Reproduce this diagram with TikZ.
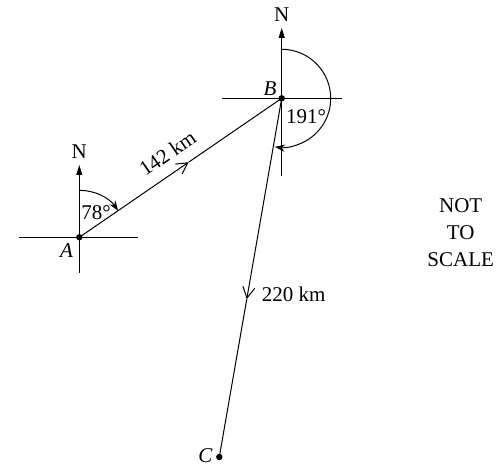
\documentclass[tikz,border=0pt]{standalone}
\usepackage{fontspec}
\setmainfont{Liberation Serif}
\usetikzlibrary{arrows.meta, calc}

\begin{document}
\begin{tikzpicture}[
    x=0.5pt, y=0.5pt, line width=0.5pt,
    font=\fontsize{10.5}{13.5}\selectfont,
    dot/.style={circle, fill, inner sep=0pt, minimum size=3.2pt},
    north/.style={-{Triangle[length=5pt, width=3pt]}},
    turn/.style={-{Stealth[length=5pt, width=3.6pt]}},
    midarrow/.style={-{Straight Barb[length=5.5pt, width=6pt]}}
]
    \useasboundingbox (0,0) rectangle (497,464);

    % --- Points ---
    \coordinate (A) at (79.3,226.7);
    \coordinate (B) at (281.7,365.7);
    \coordinate (C) at (219.3,7);

    % --- Cross and north line at A ---
    \draw ($(A)+(-60,0)$) -- ($(A)+(59,0)$);
    \draw[north] ($(A)+(0,-35.7)$) -- ($(A)+(0,72.3)$)
        node[above, inner sep=2.8pt] (nA) {N};

    % --- Cross and north line at B ---
    \draw ($(B)+(-60,0)$) -- ($(B)+(60,0)$);
    \draw[north] ($(B)+(0,-77.7)$) -- ($(B)+(0,70.3)$)
        node[above, inner sep=2.8pt] (nB) {N};

    % --- Legs ---
    \coordinate (mAB) at ($(A)!0.54!(B)$);
    \coordinate (mBC) at ($(B)!0.56!(C)$);
    \draw[midarrow] (A) -- (mAB);
    \draw (mAB) -- (B);
    \draw[midarrow] (B) -- (mBC);
    \draw (mBC) -- (C);
    \path (A) -- (B) node[pos=0.49, sloped, above=2.6pt] (dAB) {142 km};
    \path (B) -- (C) node[pos=0.547, right=3.6pt] (dBC) {220 km};

    % --- Bearings ---
    \draw[turn] ($(A)+(0,47)$) arc[start angle=90, end angle=34.5, radius=23.5pt];
    \draw[turn] ($(B)+(0,49)$) arc[start angle=90, end angle=-98, radius=24.5pt];
    \node (bA) at (96,251) {78°};
    \node (bB) at (306,347.5) {191°};

    % --- Dots and labels ---
    \node[dot] (dA) at (A) {};
    \node[dot] (dB) at (B) {};
    \node[dot] (dC) at (C) {};
    \node (lA) at (66.5,213) {\textit{A}};
    \node (lB) at (270,375.5) {\textit{B}};
    \node (lC) at (205.5,8.5) {\textit{C}};

    \node[align=center] (note) at (460.7,231) {NOT\\TO\\SCALE};
\end{tikzpicture}
\end{document}
